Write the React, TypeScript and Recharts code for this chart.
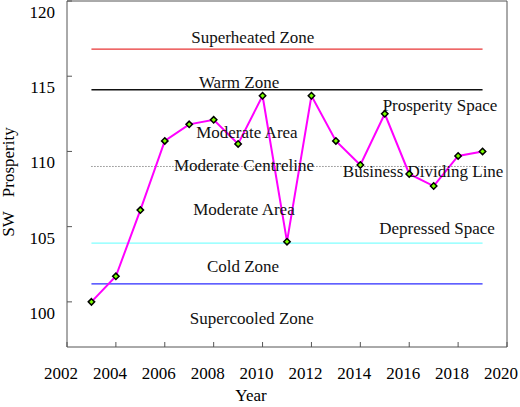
import React from 'react';
import {
  LineChart,
  Line,
  XAxis,
  YAxis,
  ReferenceLine,
  ReferenceDot,
} from 'recharts';

const FONT = '"Liberation Serif", "Times New Roman", serif';

// yearly index values
const years = [2003, 2004, 2005, 2006, 2007, 2008, 2009, 2010, 2011, 2012, 2013, 2014, 2015, 2016, 2017, 2018, 2019];
const prosperity = [100.0, 101.7, 106.1, 110.7, 111.8, 112.1, 110.5, 113.7, 104.0, 113.7, 110.7, 109.1, 112.5, 108.5, 107.7, 109.7, 110.0];

const xTicks = [2002, 2004, 2006, 2008, 2010, 2012, 2014, 2016, 2018, 2020];
const yTicks = [100, 105, 110, 115, 120];

// zone boundary lines, drawn from the first to the last year
const zoneLines = [
  { name: 'superheated', value: 116.8, color: '#e83434', dash: undefined },
  { name: 'warm', value: 114.1, color: '#111111', dash: undefined },
  { name: 'centre', value: 109.0, color: '#555555', dash: '1 2' },
  { name: 'depressed', value: 103.9, color: '#80ffff', dash: undefined },
  { name: 'cold', value: 101.2, color: '#2b2bff', dash: undefined },
];

// zone captions placed in data coordinates
const captions = [
  { text: 'Superheated Zone', x: 2009.6, y: 117.6 },
  { text: 'Warm Zone', x: 2009.04, y: 114.62 },
  { text: 'Prosperity Space', x: 2017.26, y: 113.1 },
  { text: 'Moderate Area', x: 2009.36, y: 111.3 },
  { text: 'Moderate Centreline', x: 2009.24, y: 109.1 },
  { text: 'Business Dividing Line', x: 2016.57, y: 108.7 },
  { text: 'Moderate Area', x: 2009.24, y: 106.2 },
  { text: 'Depressed Space', x: 2017.14, y: 104.9 },
  { text: 'Cold Zone', x: 2009.2, y: 102.4 },
  { text: 'Supercooled Zone', x: 2009.56, y: 98.9 },
];

const data = years.map((year, i) => ({ year, value: prosperity[i] }));

const AXIS = '#555555';
const TICK_LEN = 5;

const LeftTick = (props: any) => {
  const { x, y, payload } = props;
  return (
    <g>
      <line x1={x} y1={y} x2={x + TICK_LEN} y2={y} stroke={AXIS} />
      <text x={x - 12} y={y + 11} dy="0.35em" textAnchor="end" fill="#000" fontSize={17} fontFamily={FONT}>
        {payload.value}
      </text>
    </g>
  );
};

const RightTick = (props: any) => {
  const { x, y } = props;
  return <line x1={x} y1={y} x2={x - TICK_LEN} y2={y} stroke={AXIS} />;
};

const BottomTick = (props: any) => {
  const { x, y, payload } = props;
  return (
    <g>
      <line x1={x} y1={y} x2={x} y2={y - TICK_LEN} stroke={AXIS} />
      <text x={x - 6} y={y + 26} dy="0.35em" textAnchor="middle" fill="#000" fontSize={17} fontFamily={FONT}>
        {payload.value}
      </text>
    </g>
  );
};

const TopTick = (props: any) => {
  const { x, y } = props;
  return <line x1={x} y1={y} x2={x} y2={y + TICK_LEN} stroke={AXIS} />;
};

const YTitle = (props: any) => {
  const { viewBox } = props;
  const x = viewBox.x + 14;
  const y = viewBox.y + viewBox.height / 2 + 8;
  return (
    <text
      x={x}
      y={y}
      transform={`rotate(-90 ${x} ${y})`}
      textAnchor="middle"
      fill="#000"
      fontSize={17}
      fontFamily={FONT}
    >
      <tspan>SW</tspan>
      <tspan dx={14}>Prosperity</tspan>
    </text>
  );
};

const XTitle = (props: any) => {
  const { viewBox } = props;
  return (
    <text
      x={viewBox.x + viewBox.width / 2 - 36}
      y={viewBox.y + 48}
      dy="0.35em"
      textAnchor="middle"
      fill="#000"
      fontSize={17}
      fontFamily={FONT}
    >
      Year
    </text>
  );
};

const Diamond = (props: any) => {
  const { cx, cy } = props;
  if (cx == null || cy == null) return null;
  const s = 3.2;
  return (
    <polygon
      points={`${cx},${cy - s} ${cx + s},${cy} ${cx},${cy + s} ${cx - s},${cy}`}
      fill="#7cff00"
      stroke="#000"
      strokeWidth={1.5}
    />
  );
};

const Caption = (text: string) => (props: any) => (
  <text
    x={props.cx}
    y={props.cy}
    dy="0.35em"
    textAnchor="middle"
    fill="#111"
    fontSize={17}
    fontFamily={FONT}
  >
    {text}
  </text>
);

export default function App() {
  return (
    <div style={{ position: 'absolute', left: 0, top: 0, background: '#fff' }}>
      <LineChart
        width={520}
        height={407}
        data={data}
        margin={{ top: 0, right: 0, bottom: 0, left: 0 }}
      >
        <XAxis
          dataKey="year"
          type="number"
          domain={[2002, 2020]}
          ticks={xTicks}
          interval={0}
          height={60}
          tickSize={0}
          tickMargin={0}
          tickLine={false}
          axisLine={{ stroke: AXIS }}
          tick={<BottomTick />}
          label={<XTitle />}
        />
        <XAxis
          xAxisId="top"
          orientation="top"
          type="number"
          domain={[2002, 2020]}
          ticks={xTicks}
          interval={0}
          height={1}
          tickSize={0}
          tickMargin={0}
          tickLine={false}
          axisLine={{ stroke: AXIS }}
          tick={<TopTick />}
        />
        <YAxis
          type="number"
          domain={[97, 120]}
          ticks={yTicks}
          interval={0}
          width={67}
          tickSize={0}
          tickMargin={0}
          tickLine={false}
          axisLine={{ stroke: AXIS }}
          tick={<LeftTick />}
          label={<YTitle />}
        />
        <YAxis
          yAxisId="right"
          orientation="right"
          type="number"
          domain={[97, 120]}
          ticks={yTicks}
          interval={0}
          width={13}
          tickSize={0}
          tickMargin={0}
          tickLine={false}
          axisLine={{ stroke: AXIS }}
          tick={<RightTick />}
        />
        {zoneLines.map((z) => (
          <ReferenceLine
            key={z.name}
            segment={[
              { x: years[0], y: z.value },
              { x: years[years.length - 1], y: z.value },
            ]}
            stroke={z.color}
            strokeWidth={z.dash ? 1 : 1.3}
            strokeDasharray={z.dash}
          />
        ))}
        {captions.map((c, i) => (
          <ReferenceDot key={i} x={c.x} y={c.y} r={0} shape={Caption(c.text)} />
        ))}
        <Line
          dataKey="value"
          stroke="#ff00ff"
          strokeWidth={2}
          dot={<Diamond />}
          activeDot={false}
          isAnimationActive={false}
        />
      </LineChart>
    </div>
  );
}
